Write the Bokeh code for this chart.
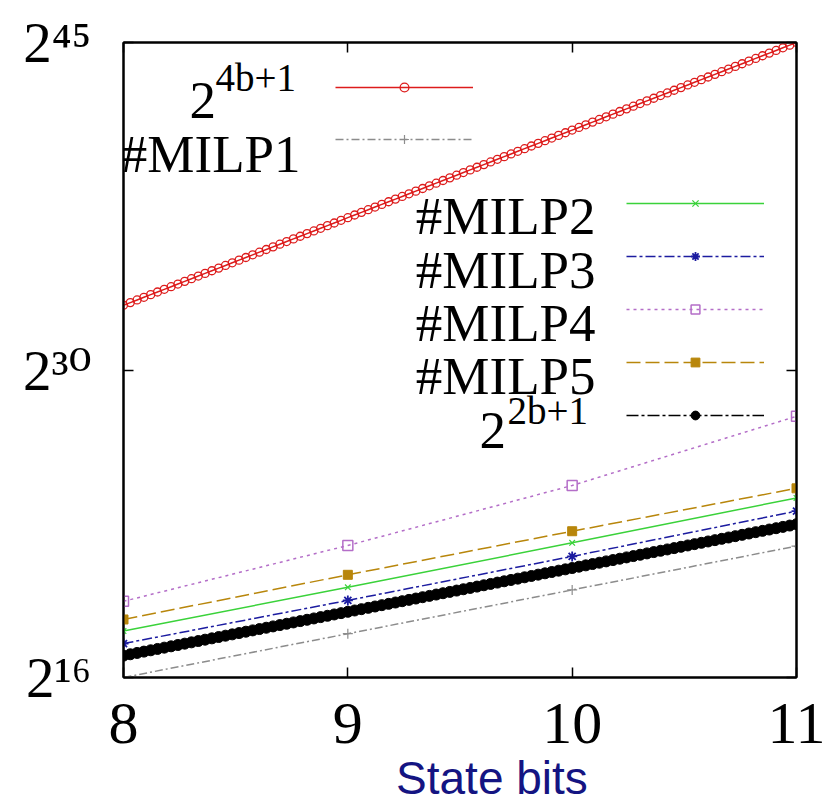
import numpy as np
from bokeh.plotting import figure
from bokeh.models import FixedTicker, LogAxis, LinearAxis, Legend, LegendItem, Label
from bokeh.embed import file_html
from bokeh.resources import INLINE

# ---------------- data ----------------
state_bits = [8, 9, 10, 11]
milp1_log2 = [16.0, 18.0, 20.0, 22.0]
milp2_log2 = [18.12, 20.12, 22.15, 24.2]
milp3_log2 = [17.55, 19.52, 21.53, 23.6]
milp4_log2 = [19.48, 22.03, 24.77, 27.93]
milp5_log2 = [18.65, 20.69, 22.68, 24.64]
bound_samples = 100          # sampled bound curves 2^(4b+1) and 2^(2b+1)
x_ticks = [8, 9, 10, 11]
y_tick_exponents = [16, 30, 45]
x_label = "State bits"

# ---------------- layout ----------------
W, H = 829, 806
BL, BR, BT, BB = 123, 33, 42, 129
FL, FR, FT, FB = BL, W - BR, BT, H - BB   # frame in page px
XMIN, XMAX = 8, 11
EMIN, EMAX = 16, 45


def px_x(px):
    return XMIN + (px - FL) * (XMAX - XMIN) / (FR - FL)


def px_y(py):
    return 2.0 ** (EMIN + (FB - py) * (EMAX - EMIN) / (FB - FT))


SUP = str.maketrans("0123456789", "⁰¹²³⁴⁵⁶⁷⁸⁹")
y_ticks = [2 ** e for e in y_tick_exponents]
y_tick_labels = {2 ** e: "2" + str(e).translate(SUP) for e in y_tick_exponents}

p = figure(width=W, height=H, y_axis_type="log", x_range=(XMIN, XMAX),
           y_range=(2.0 ** EMIN, 2.0 ** EMAX), output_backend="svg",
           toolbar_location=None, title=None,
           min_border_left=BL, min_border_right=BR, min_border_top=BT,
           min_border_bottom=BB)
p.grid.visible = False
p.outline_line_color = "black"
p.outline_line_width = 2
p.background_fill_color = "white"
p.border_fill_color = "white"

SERIF = "Liberation Serif"

xa = p.xaxis[0]
xa.ticker = FixedTicker(ticks=x_ticks)
xa.major_tick_in = 10
xa.major_tick_out = 0
xa.major_tick_line_width = 1.5
xa.minor_tick_line_color = None
xa.axis_line_width = 2
xa.major_label_text_font = SERIF
xa.major_label_text_font_size = "60px"
xa.major_label_text_color = "black"
xa.major_label_standoff = 26
# leading no-break spaces shift the centred title right, as in the original
xa.axis_label = "\u00a0" * 5 + x_label
xa.axis_label_text_font = "Liberation Sans"
xa.axis_label_text_font_size = "46px"
xa.axis_label_text_font_style = "normal"
xa.axis_label_text_color = "#141482"
xa.axis_label_standoff = 6

ya = p.yaxis[0]
ya.ticker = FixedTicker(ticks=y_ticks)
ya.major_label_overrides = y_tick_labels
ya.major_tick_in = 10
ya.major_tick_out = 0
ya.major_tick_line_width = 1.5
ya.minor_tick_line_color = None
ya.axis_line_width = 2
ya.major_label_text_font = "Liberation Serif, DejaVu Serif"
ya.major_label_text_font_size = "57px"
ya.major_label_text_color = "black"
ya.major_label_standoff = 32

ra = LogAxis(ticker=FixedTicker(ticks=y_ticks),
             major_tick_in=10, major_tick_out=0, minor_tick_line_color=None,
             major_label_text_color=None, major_label_text_font_size="10px",
             major_label_standoff=0, axis_line_width=2, major_tick_line_width=1.5)
p.add_layout(ra, "right")
ta = LinearAxis(ticker=FixedTicker(ticks=x_ticks),
                major_tick_in=10, major_tick_out=0, minor_tick_line_color=None,
                major_label_text_color=None, major_label_text_font_size="10px",
                major_label_standoff=0, axis_line_width=2, major_tick_line_width=1.5)
p.add_layout(ta, "above")

# ---------------- series ----------------
RED, GRAY, GREEN, BLUE = "#dd1c1c", "#8c8c8c", "#3ad23a", "#1c1ca0"
PURPLE, GOLD, BLACK = "#b46ec8", "#b8860b", "black"

b_fine = np.linspace(XMIN, XMAX, bound_samples)
upper = 2.0 ** (4 * b_fine + 1)
lower = 2.0 ** (2 * b_fine + 1)
bx = np.array(state_bits, dtype=float)

up_l = p.line(b_fine, upper, line_color=RED, line_width=1.5)
up_m = p.scatter(b_fine, upper, marker="circle", size=8, fill_color=None,
                 line_color=RED, line_width=1.3)

m1_l = p.line(bx, 2.0 ** np.array(milp1_log2), line_color=GRAY, line_width=1.5,
              line_dash="8 3 2 3")
m1_m = p.scatter(bx, 2.0 ** np.array(milp1_log2), marker="cross", size=10,
                 line_color=GRAY, line_width=1.2)

m2_l = p.line(bx, 2.0 ** np.array(milp2_log2), line_color=GREEN, line_width=1.5)
m2_m = p.scatter(bx, 2.0 ** np.array(milp2_log2), marker="x", size=8,
                 line_color=GREEN, line_width=1.2)

m3_l = p.line(bx, 2.0 ** np.array(milp3_log2), line_color=BLUE, line_width=1.5,
              line_dash="10 3 3 3")
m3_m = p.scatter(bx, 2.0 ** np.array(milp3_log2), marker="asterisk", size=10,
                 line_color=BLUE, line_width=1.8)

m4_l = p.line(bx, 2.0 ** np.array(milp4_log2), line_color=PURPLE, line_width=1.5,
              line_dash="3 4")
m4_m = p.scatter(bx, 2.0 ** np.array(milp4_log2), marker="square", size=10,
                 fill_color=None, line_color=PURPLE, line_width=1.5)

m5_l = p.line(bx, 2.0 ** np.array(milp5_log2), line_color=GOLD, line_width=1.5,
              line_dash="14 5")
m5_m = p.scatter(bx, 2.0 ** np.array(milp5_log2), marker="square", size=9,
                 fill_color=GOLD, line_color=GOLD)

lo_l = p.line(b_fine, lower, line_color=BLACK, line_width=1.5, line_dash="12 3 3 3")
lo_m = p.scatter(b_fine, lower, marker="circle", size=11, fill_color=BLACK,
                 line_color=BLACK)

# ---------------- legends (samples) ----------------


def make_legend(items, vx, vy, gh, sp):
    lg = Legend(items=items, location=(vx, vy), orientation="vertical",
                glyph_width=138, glyph_height=gh, spacing=sp, padding=0,
                label_standoff=0, label_width=1, label_height=gh,
                label_text_font_size="2px", label_text_color=None,
                border_line_color=None, background_fill_alpha=0)
    p.add_layout(lg, "center")


make_legend([LegendItem(label=" ", renderers=[up_l, up_m]),
             LegendItem(label=" ", renderers=[m1_l, m1_m])],
            335 - FL, FB - 150, 22, 30)
make_legend([LegendItem(label=" ", renderers=[m2_l, m2_m]),
             LegendItem(label=" ", renderers=[m3_l, m3_m]),
             LegendItem(label=" ", renderers=[m4_l, m4_m]),
             LegendItem(label=" ", renderers=[m5_l, m5_m]),
             LegendItem(label=" ", renderers=[lo_l, lo_m])],
            626 - FL, FB - 426, 22, 31)


def add_text(text, px, py, size, align="left", font=SERIF, color="black"):
    p.add_layout(Label(x=px_x(px), y=px_y(py), x_units="data", y_units="data",
                       text=text, text_font=font, text_font_size=size,
                       text_align=align, text_baseline="alphabetic",
                       text_color=color))


# legend texts
add_text("2", 189, 100, "53px")
add_text("4b+1", 215, 77, "39px")
add_text("#MILP1", 300, 153, "53px", "right")
for name, cy in zip(["#MILP2", "#MILP3", "#MILP4", "#MILP5"], [203, 257, 310, 363]):
    add_text(name, 595, cy + 12, "53px", "right")
add_text("2", 479, 430, "53px")
add_text("2b+1", 507, 410, "39px")

open("out.html", "w").write(file_html(p, INLINE))
